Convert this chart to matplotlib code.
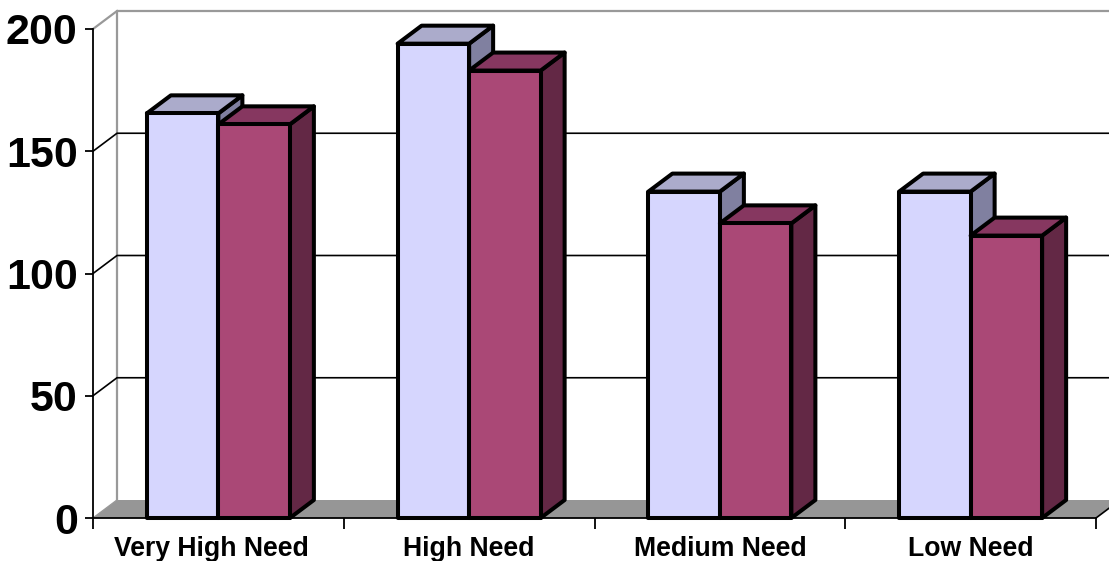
import numpy as np
import matplotlib
matplotlib.use("Agg")
import matplotlib.pyplot as plt
from matplotlib.patches import Polygon
from matplotlib.transforms import ScaledTranslation

categories = ["Very High Need", "High Need", "Medium Need", "Low Need"]
series_a = [165.5, 194, 133.5, 133.5]
series_b = [161, 183, 120.5, 115.5]
y_ticks = [0, 50, 100, 150, 200]

W, H = 1109, 561
left, right, top, bottom = 93, 1096, 29, 518

plt.rcParams['font.family'] = ['Liberation Sans', 'DejaVu Sans']
plt.rcParams['font.weight'] = 'bold'

fig = plt.figure(figsize=(W / 100, H / 100), dpi=100)
ax = fig.add_axes([left / W, 1 - bottom / H, (right - left) / W, (bottom - top) / H])
ax.set_xlim(0, 4)
ax.set_ylim(0, 200)
ax.patch.set_visible(False)

# depth of the fake 3d box, in data units
dx = 24 / ((right - left) / 4)
dy = 18 / ((bottom - top) / 200)
bar_w = 71.5 / ((right - left) / 4)


def poly(pts, color, edge="black", lw=2.9, z=3):
    ax.add_patch(Polygon(pts, closed=True, facecolor=color, edgecolor=edge,
                         linewidth=lw, joinstyle="round", zorder=z, clip_on=False))


def bar3d(x0, h, front, side, roof, z):
    x1 = x0 + bar_w
    poly([(x1, 0), (x1 + dx, dy), (x1 + dx, h + dy), (x1, h)], side, z=z)
    poly([(x0, h), (x0 + dx, h + dy), (x1 + dx, h + dy), (x1, h)], roof, z=z)
    poly([(x0, 0), (x1, 0), (x1, h), (x0, h)], front, z=z)


# floor and walls
poly([(0, 0), (dx, dy), (4 + dx, dy), (4, 0)], "#969696", edge="none", lw=0, z=1)
ax.plot([dx, dx, 4 + dx], [dy, 200 + dy, 200 + dy], color="#999999", lw=1.6, zorder=1.5, clip_on=False)
ax.plot([0, dx], [200, 200 + dy], color="#999999", lw=1.6, zorder=1.5, clip_on=False)
ax.plot([0, dx], [0, dy], color="#999999", lw=1.0, zorder=1.5, clip_on=False)
for v in y_ticks[1:-1]:
    ax.plot([0, dx, 4 + dx], [v, v + dy, v + dy], color="black", lw=1.2, zorder=1.5, clip_on=False)
ax.plot([4, 4 + dx], [0, dy], color="black", lw=1.2, zorder=1.5, clip_on=False)

for i in range(len(categories)):
    x_mid = i + 0.5
    bar3d(x_mid - bar_w, series_a[i], "#D6D6FE", "#8080A0", "#ABABCB", 3 + i * 0.1)
    bar3d(x_mid, series_b[i], "#AA4876", "#632845", "#863760", 3.05 + i * 0.1)

for s in ["top", "right"]:
    ax.spines[s].set_visible(False)
for s in ["left", "bottom"]:
    ax.spines[s].set_linewidth(1.3)
    ax.spines[s].set_zorder(2)

ax.set_yticks(y_ticks)
ax.set_yticklabels([str(v) for v in y_ticks], fontsize=31, fontweight="bold")
ax.tick_params(axis="y", length=6, width=1.3, pad=5)
ax.set_xticks([0, 1, 2, 3, 4])
ax.set_xticklabels([])
ax.tick_params(axis="x", which="major", length=8, width=1.3)
ax.set_xticks([0.5, 1.5, 2.5, 3.5], minor=True)
ax.set_xticklabels(categories, minor=True, fontsize=19.2, fontweight="bold")
ax.tick_params(axis="x", which="minor", length=0, pad=13)

# first label sits a bit left of its group in the original
lab = ax.get_xticklabels(minor=True)[0]
lab.set_transform(lab.get_transform() + ScaledTranslation(-7 / 100, 0, fig.dpi_scale_trans))

fig.savefig("out.png", dpi=100)
